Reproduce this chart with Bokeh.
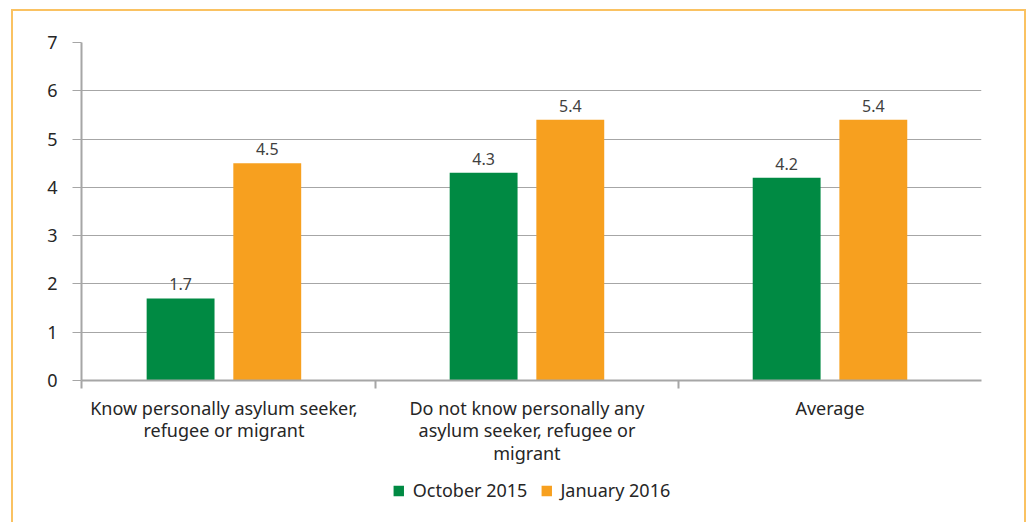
from bokeh.plotting import figure
from bokeh.models import ColumnDataSource, FixedTicker, LinearAxis, Legend, LegendItem, Range1d, Grid
from bokeh.layouts import column
from bokeh.embed import file_html
from bokeh.resources import INLINE
from bokeh.core.properties import value

categories = ["Know personally asylum seeker,\nrefugee or migrant",
              "Do not know personally any\nasylum seeker, refugee or\nmigrant",
              "Average"]
series_names = ["October 2015", "January 2016"]
oct_2015 = [1.7, 4.3, 4.2]
jan_2016 = [4.5, 5.4, 5.4]
y_ticks = [0, 1, 2, 3, 4, 5, 6, 7]

GREEN = "#008A43"
ORANGE = "#F7A01F"
FONT = "Noto Sans"
TXT = "#262626"
GRAY = "#A6A6A6"
BORDER = "2px solid #FAC262"

X0, X1 = 0.03, 3.0
centers = [i + 0.5 for i in range(len(categories))]
off = 0.143
bw = 0.224

p = figure(frame_width=900, frame_height=338, output_backend="svg", toolbar_location=None,
           x_range=Range1d(X0, X1), y_range=Range1d(0, 7),
           x_axis_type=None, y_axis_type=None,
           min_border_left=68, min_border_right=43, min_border_top=31, min_border_bottom=98)
p.outline_line_color = None
p.background_fill_color = "white"
p.border_fill_color = "white"

yaxis = LinearAxis(ticker=FixedTicker(ticks=y_ticks, minor_ticks=[]))
yaxis.axis_line_color = GRAY
yaxis.axis_line_width = 2
yaxis.major_tick_line_color = GRAY
yaxis.major_tick_out = 9
yaxis.major_tick_in = 0
yaxis.minor_tick_line_color = None
yaxis.major_label_text_font = FONT
yaxis.major_label_text_font_size = "18px"
yaxis.major_label_text_color = TXT
yaxis.major_label_standoff = 15
p.add_layout(yaxis, "left")

xaxis = LinearAxis(ticker=FixedTicker(ticks=centers, minor_ticks=[X0] + list(range(1, len(categories)))))
xaxis.major_label_overrides = {c: lab for c, lab in zip(centers, categories)}
xaxis.axis_line_color = GRAY
xaxis.axis_line_width = 2
xaxis.major_tick_line_color = None
xaxis.minor_tick_line_color = GRAY
xaxis.minor_tick_line_width = 2
xaxis.minor_tick_out = 8
xaxis.minor_tick_in = 0
xaxis.major_label_text_font = FONT
xaxis.major_label_text_font_size = "18px"
xaxis.major_label_text_color = TXT
xaxis.major_label_standoff = 7
xaxis.major_label_text_line_height = 0.95
p.add_layout(xaxis, "below")

grid = Grid(dimension=1, ticker=yaxis.ticker, grid_line_color=GRAY, grid_line_width=1)
p.add_layout(grid)

src = ColumnDataSource(dict(
    x1=[c - off for c in centers], x2=[c + off for c in centers],
    oct=oct_2015, jan=jan_2016,
    oct_l=[f"{v:.1f}" for v in oct_2015], jan_l=[f"{v:.1f}" for v in jan_2016]))

p.vbar(x="x1", top="oct", width=bw, source=src, fill_color=GREEN, line_color=None)
p.vbar(x="x2", top="jan", width=bw, source=src, fill_color=ORANGE, line_color=None)

for xcol, ycol, tcol in [("x1", "oct", "oct_l"), ("x2", "jan", "jan_l")]:
    p.text(x=xcol, y=ycol, text=tcol, source=src, y_offset=-14,
           text_align="center", text_baseline="alphabetic",
           text_font=value(FONT), text_font_size="16px", text_color="#404040")

# legend strip (separate figure so the legend is not clipped)
pl = figure(width=1011, height=44, output_backend="svg", toolbar_location=None,
            x_range=Range1d(X0, X1), y_range=Range1d(100, 101),
            x_axis_type=None, y_axis_type=None,
            min_border_left=8, min_border_right=0, min_border_top=0, min_border_bottom=0)
pl.outline_line_color = None
pl.border_fill_color = "white"
l1 = pl.vbar(x="x1", top="oct", width=bw, source=src, fill_color=GREEN, line_color=None)
l2 = pl.vbar(x="x2", top="jan", width=bw, source=src, fill_color=ORANGE, line_color=None)

legend = Legend(items=[LegendItem(label=series_names[0], renderers=[l1]),
                       LegendItem(label=series_names[1], renderers=[l2])],
                orientation="horizontal", location="top_center",
                glyph_width=13, glyph_height=13, label_standoff=8, spacing=12,
                label_text_font=FONT, label_text_font_size="18px", label_text_color=TXT,
                border_line_color=None, background_fill_alpha=0, padding=0, margin=0)
pl.add_layout(legend)

layout = column(p, pl, spacing=0,
                styles={"margin-left": "11px", "margin-top": "9px",
                        "border-left": BORDER, "border-top": BORDER, "border-right": BORDER})

open("out.html", "w").write(file_html(layout, INLINE))
